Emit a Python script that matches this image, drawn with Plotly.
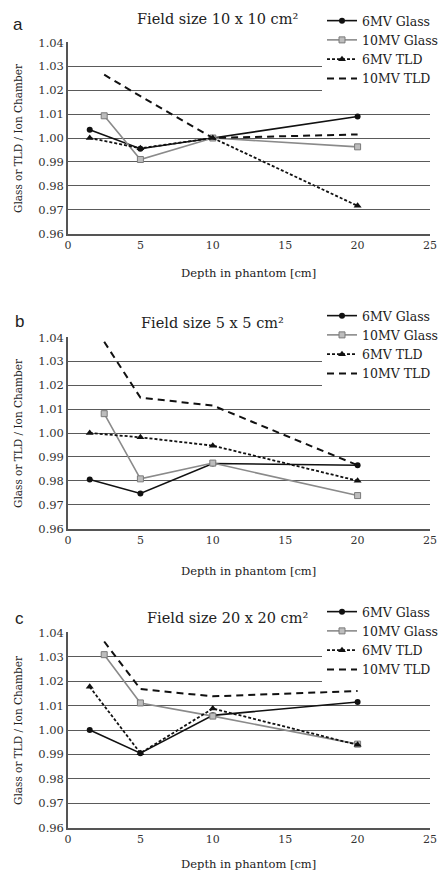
import plotly.graph_objects as go

depth_6mv = [1.5, 5, 10, 20]
depth_10mv = [2.5, 5, 10, 20]

panels = ["a", "b", "c"]
titles = ["Field size 10 x 10 cm²", "Field size 5 x 5 cm²", "Field size 20 x 20 cm²"]

# panel a: 10x10
a_6mv_glass = [1.0035, 0.9955, 1.000, 1.009]
a_10mv_glass = [1.0093, 0.991, 1.000, 0.9963]
a_6mv_tld = [1.000, 0.9957, 1.000, 0.9716]
a_10mv_tld = [1.0265, 1.0175, 1.000, 1.0015]

# panel b: 5x5
b_6mv_glass = [0.9805, 0.9747, 0.9872, 0.9865]
b_10mv_glass = [1.0081, 0.9808, 0.9874, 0.9738]
b_6mv_tld = [1.000, 0.9982, 0.9947, 0.9800]
b_10mv_tld = [1.0382, 1.0148, 1.0115, 0.9865]

# panel c: 20x20
c_6mv_glass = [1.000, 0.9905, 1.006, 1.0115]
c_10mv_glass = [1.0309, 1.0111, 1.0057, 0.9942]
c_6mv_tld = [1.0177, 0.9905, 1.0088, 0.9939]
c_10mv_tld = [1.0363, 1.0168, 1.0138, 1.016]

series_names = ["6MV Glass", "10MV Glass", "6MV TLD", "10MV TLD"]
data = [
    [a_6mv_glass, a_10mv_glass, a_6mv_tld, a_10mv_tld],
    [b_6mv_glass, b_10mv_glass, b_6mv_tld, b_10mv_tld],
    [c_6mv_glass, c_10mv_glass, c_6mv_tld, c_10mv_tld],
]

x_ticks = [0, 5, 10, 15, 20, 25]
y_ticks = [0.96, 0.97, 0.98, 0.99, 1.00, 1.01, 1.02, 1.03, 1.04]

W, H = 445, 871
SERIF = "DejaVu Serif"
TXT = "#222222"

# pixel geometry of each panel (top, bottom of plot area)
panel_px = [(42, 234), (337, 529), (632, 828)]
legend_top_px = [6, 301, 597]
title_px = [(217, 19), (212, 323), (227, 618)]
letter_px = [(18, 25), (19, 322), (19, 618)]
xlabel_px = [273, 571, 864]
x_left, x_right = 68, 430

styles = [
    dict(line=dict(color="#111111", width=1.6, dash="solid"),
         marker=dict(symbol="circle", size=6, color="#111111")),
    dict(line=dict(color="#8a8a8a", width=1.6, dash="solid"),
         marker=dict(symbol="square", size=6, color="#bdbdbd",
                     line=dict(color="#7a7a7a", width=1))),
    dict(line=dict(color="#111111", width=1.8, dash="3px,2px"),
         marker=dict(symbol="triangle-up", size=7, color="#111111")),
    dict(line=dict(color="#111111", width=2.0, dash="7px,5px"),
         marker=dict(size=1, opacity=0)),
]

fig = go.Figure()
layout = dict(width=W, height=H,
              margin=dict(l=0, r=0, t=0, b=0, autoexpand=False),
              paper_bgcolor="white", plot_bgcolor="white",
              font=dict(family=SERIF, color=TXT))
annotations = []

for i in range(3):
    xa = "x" if i == 0 else f"x{i+1}"
    ya = "y" if i == 0 else f"y{i+1}"
    lg = "legend" if i == 0 else f"legend{i+1}"
    for j in range(4):
        xs = depth_6mv if j % 2 == 0 else depth_10mv
        mode = "lines+markers" if j < 3 else "lines"
        fig.add_trace(go.Scatter(x=xs, y=data[i][j], name=series_names[j],
                                 mode=mode, xaxis=xa, yaxis=ya, legend=lg,
                                 **styles[j]))
    top, bot = panel_px[i]
    xkey = "xaxis" if i == 0 else f"xaxis{i+1}"
    ykey = "yaxis" if i == 0 else f"yaxis{i+1}"
    layout[xkey] = dict(domain=[x_left / W, x_right / W], anchor=ya,
                        range=[0, 25], tickvals=x_ticks, showgrid=False,
                        zeroline=False, showline=True, linecolor="#555555",
                        linewidth=1.5, ticks="", automargin=False,
                        tickfont=dict(family=SERIF, size=11, color="#333333"))
    layout[ykey] = dict(domain=[1 - bot / H, 1 - top / H], anchor=xa,
                        range=[0.9598, 1.0402], tickvals=y_ticks,
                        tickformat=".2f", showgrid=True, gridcolor="#5a5a5a",
                        gridwidth=1.4, zeroline=False, showline=True,
                        linecolor="#555555", linewidth=1.5, ticks="",
                        automargin=False,
                        tickfont=dict(family=SERIF, size=11.5, color="#333333"))
    layout[lg] = dict(x=322 / W, y=1 - legend_top_px[i] / H, xanchor="left",
                      yanchor="top", bgcolor="white", borderwidth=0,
                      font=dict(family=SERIF, size=12.5, color=TXT),
                      itemwidth=30, tracegroupgap=0)
    common = dict(xref="paper", yref="paper", showarrow=False,
                  xanchor="center", yanchor="middle")
    tx, ty = title_px[i]
    annotations.append(dict(text=titles[i], x=tx / W, y=1 - ty / H,
                            font=dict(family=SERIF, size=14.5, color=TXT), **common))
    lx, ly = letter_px[i]
    annotations.append(dict(text=panels[i], x=lx / W, y=1 - ly / H,
                            font=dict(family="Liberation Sans", size=17, color=TXT), **common))
    annotations.append(dict(text="Depth in phantom [cm]",
                            x=(x_left + x_right) / 2 / W, y=1 - xlabel_px[i] / H,
                            font=dict(family=SERIF, size=11.5, color=TXT), **common))
    annotations.append(dict(text="Glass or TLD / Ion Chamber", textangle=-90,
                            x=18 / W, y=1 - (top + bot) / 2 / H,
                            font=dict(family=SERIF, size=10.5, color=TXT), **common))

layout["annotations"] = annotations
layout["showlegend"] = True
fig.update_layout(**layout)
fig.write_html("out.html", config={"displayModeBar": False},
               post_script="document.body.style.margin='0px';")
